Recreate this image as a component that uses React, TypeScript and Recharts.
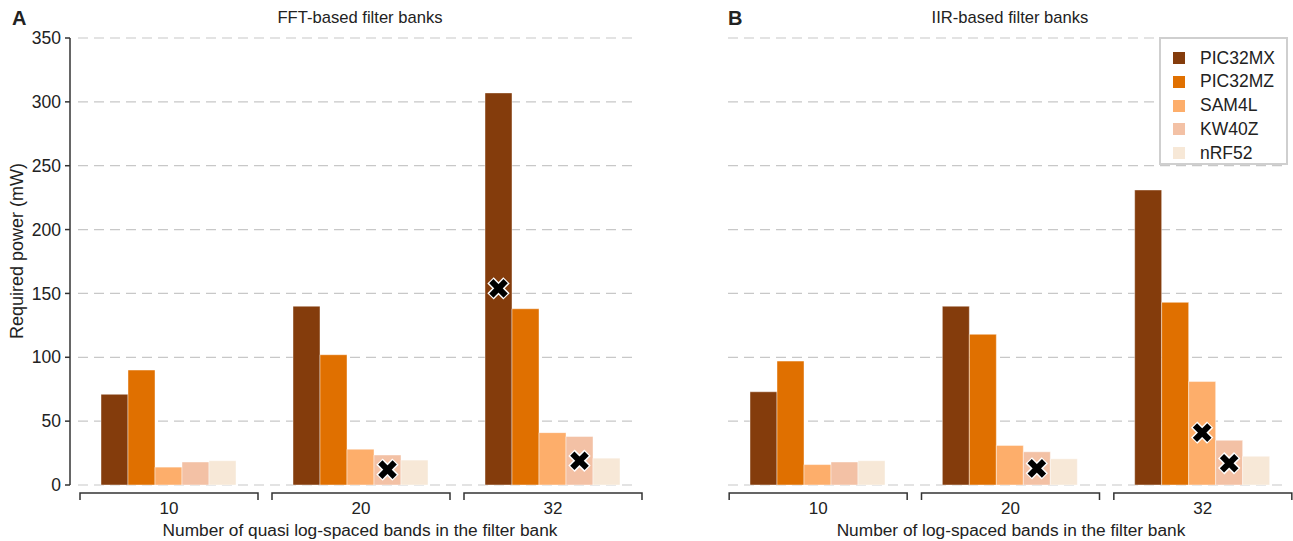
import { BarChart, Bar, XAxis, YAxis, CartesianGrid, Rectangle } from "recharts";

const categories = ["10", "20", "32"];
const devices = ["PIC32MX", "PIC32MZ", "SAM4L", "KW40Z", "nRF52"];
const colors = ["#843C0C", "#E07000", "#FDAE6B", "#F3C1A5", "#F7E8D7"];
const yTicks = [0, 50, 100, 150, 200, 250, 300, 350];

// FFT-based filter banks (mW)
const fftMX = [71, 140, 307];
const fftMZ = [90, 102, 138];
const fftSAM = [14, 28, 41];
const fftKW = [18, 23.5, 38];
const fftNRF = [19, 19.5, 21];
// crosses drawn on top of bars
const fftMXMark = [null, null, 154];
const fftKWMark = [null, 12, 19];

// IIR-based filter banks (mW)
const iirMX = [73, 140, 231];
const iirMZ = [97, 118, 143];
const iirSAM = [16, 31, 81];
const iirKW = [18, 26, 35];
const iirNRF = [19, 20.5, 22.5];
const iirSAMMark = [null, null, 41];
const iirKWMark = [null, 13, 17];

const noMarks = [null, null, null];

const buildRows = (
  series: number[][],
  marks: (number | null)[][],
) =>
  categories.map((c, i) => {
    const row: Record<string, string | number | null> = { cat: c };
    devices.forEach((d, j) => {
      row[d] = series[j][i];
      row[d + "_mark"] = marks[j][i];
    });
    return row;
  });

const fftData = buildRows(
  [fftMX, fftMZ, fftSAM, fftKW, fftNRF],
  [fftMXMark, noMarks, noMarks, fftKWMark, noMarks],
);
const iirData = buildRows(
  [iirMX, iirMZ, iirSAM, iirKW, iirNRF],
  [noMarks, noMarks, iirSAMMark, iirKWMark, noMarks],
);

const FONT = "'Liberation Sans', Arial, Helvetica, sans-serif";

const Cross = ({ cx, cy }: { cx: number; cy: number }) => (
  <g>
    <line x1={cx - 8} y1={cy - 8} x2={cx + 8} y2={cy + 8} stroke="#fff" strokeWidth={9} />
    <line x1={cx - 8} y1={cy + 8} x2={cx + 8} y2={cy - 8} stroke="#fff" strokeWidth={9} />
    <line x1={cx - 7.2} y1={cy - 7.2} x2={cx + 7.2} y2={cy + 7.2} stroke="#000" strokeWidth={6} />
    <line x1={cx - 7.2} y1={cy + 7.2} x2={cx + 7.2} y2={cy - 7.2} stroke="#000" strokeWidth={6} />
  </g>
);

const makeShape = (key: string) => (props: any) => {
  const { x, y, width, height, fill, payload } = props;
  const mark = payload ? payload[key + "_mark"] : null;
  const value = payload ? payload[key] : 0;
  return (
    <g>
      <Rectangle
        x={x}
        y={y}
        width={width}
        height={height}
        fill={fill}
        stroke="#ffffff"
        strokeOpacity={0.55}
        strokeWidth={0.8}
      />
      {mark != null && value ? (
        <Cross cx={x + width / 2} cy={y + height - (height * mark) / value} />
      ) : null}
    </g>
  );
};

const BracketTick = (props: any) => {
  const { x, y, payload } = props;
  return (
    <g>
      <path
        d={`M${x - 89},${y + 15} L${x - 89},${y + 8} L${x + 89},${y + 8} L${x + 89},${y + 15}`}
        fill="none"
        stroke="#333"
        strokeWidth={1.5}
      />
      <text x={x} y={y + 29} textAnchor="middle" fontSize={17} fill="#222" fontFamily={FONT}>
        {payload.value}
      </text>
    </g>
  );
};

const gridLine = (padL: number, padR: number) => (props: any) => {
  const { x1, x2, y1, y2, key } = props;
  return (
    <line
      key={key}
      x1={x1 + padL}
      x2={x2 - padR}
      y1={y1}
      y2={y2}
      stroke="#c8c8c8"
      strokeWidth={1.2}
      strokeDasharray="10 6"
    />
  );
};

const Panel = ({
  data,
  left,
  width,
  showY,
}: {
  data: any[];
  left: number;
  width: number;
  showY: boolean;
}) => (
  <div style={{ position: "absolute", left, top: 0 }}>
    <BarChart
      width={width}
      height={541}
      data={data}
      margin={showY ? { top: 38, right: 11, bottom: 6, left: 10 } : { top: 38, right: -6, bottom: 6, left: 62 }}
      barCategoryGap={28}
      barGap={0}
    >
      <CartesianGrid
        vertical={false}
        horizontal={showY ? gridLine(8, 12) : gridLine(6, 12)}
      />
      <XAxis
        dataKey="cat"
        axisLine={false}
        tickLine={false}
        tickSize={0}
        tickMargin={0}
        height={50}
        interval={0}
        padding={showY ? { left: 3, right: 0 } : { left: 0, right: 0 }}
        tick={<BracketTick />}
      />
      <YAxis
        hide={!showY}
        width={showY ? 60 : 0}
        domain={[0, 350]}
        ticks={yTicks}
        interval={0}
        axisLine={{ stroke: "#333", strokeWidth: 1.5 }}
        tickLine={{ stroke: "#333", strokeWidth: 1.5 }}
        tickSize={5}
        tickMargin={4}
        tick={{ fontSize: 17.5, fill: "#222", fontFamily: FONT }}
      />
      {devices.map((d, i) => (
        <Bar
          key={d}
          dataKey={d}
          fill={colors[i]}
          isAnimationActive={false}
          shape={makeShape(d)}
        />
      ))}
    </BarChart>
  </div>
);

const Legend = () => (
  <div
    style={{
      position: "absolute",
      left: 1159,
      top: 37,
      width: 125,
      height: 124,
      border: "2px solid #cfcfcf",
      fontFamily: FONT,
      fontSize: 17.5,
      color: "#222",
      background: "#fff",
    }}
  >
    {devices.map((d, i) => (
      <div
        key={d}
        style={{
          position: "absolute",
          left: 12,
          top: 9 + i * 23.8,
          display: "flex",
          alignItems: "center",
          height: 20,
        }}
      >
        <span
          style={{
            display: "inline-block",
            width: 12,
            height: 12,
            background: colors[i],
            marginRight: 15,
          }}
        />
        <span>{d}</span>
      </div>
    ))}
  </div>
);

const text = (
  content: string,
  cx: number,
  cy: number,
  size: number,
  bold = false,
  anchorLeft = false,
) => (
  <div
    style={{
      position: "absolute",
      left: anchorLeft ? cx : cx - 400,
      top: cy - size * 0.6,
      width: anchorLeft ? undefined : 800,
      textAlign: anchorLeft ? "left" : "center",
      fontFamily: FONT,
      fontSize: size,
      fontWeight: bold ? 700 : 400,
      color: "#222",
      lineHeight: `${size * 1.2}px`,
      whiteSpace: "nowrap",
    }}
  >
    {content}
  </div>
);

export default function App() {
  return (
    <div
      style={{
        position: "absolute",
        left: 0,
        top: 0,
        width: 1293,
        height: 541,
        background: "#fff",
        overflow: "hidden",
      }}
    >
      <Panel data={fftData} left={0} width={660} showY />
      <Panel data={iirData} left={660} width={633} showY={false} />
      {text("A", 12, 18, 20, true, true)}
      {text("B", 728, 18, 20, true, true)}
      {text("FFT-based filter banks", 360, 18, 16.6)}
      {text("IIR-based filter banks", 1010, 18, 16.6)}
      {text("Number of quasi log-spaced bands in the filter bank", 360, 530, 17.3)}
      {text("Number of log-spaced bands in the filter bank", 1011, 530, 17.3)}
      <div
        style={{
          position: "absolute",
          left: 17 - 150,
          top: 251 - 10,
          width: 300,
          height: 20,
          textAlign: "center",
          transform: "rotate(-90deg)",
          fontFamily: FONT,
          fontSize: 18,
          lineHeight: "20px",
          color: "#222",
        }}
      >
        Required power (mW)
      </div>
      <Legend />
    </div>
  );
}
